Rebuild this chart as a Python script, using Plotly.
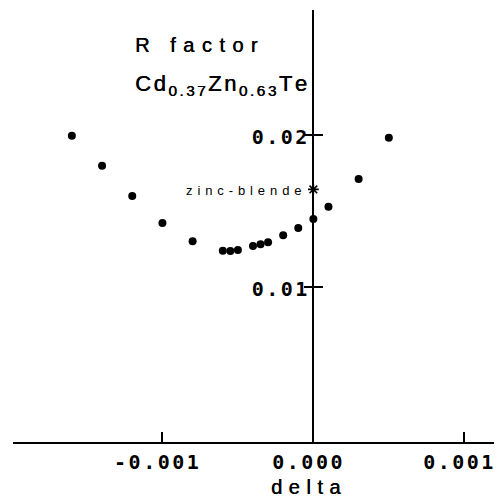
import plotly.graph_objects as go

# Data
delta = [-0.0016, -0.0014, -0.0012, -0.0010, -0.0008, -0.0006, -0.00055, -0.0005,
         -0.0004, -0.00035, -0.0003, -0.0002, -0.0001, 0.0, 0.0001, 0.0003, 0.0005]
r_factor = [0.01998, 0.01800, 0.01601, 0.01423, 0.01302, 0.01240, 0.01238, 0.01245,
            0.01271, 0.01283, 0.01296, 0.01342, 0.01390, 0.01449, 0.01530, 0.01713, 0.01985]
zb_delta = [0.0]
zb_r = [0.01644]

x_tickvals = [-0.001, 0.0, 0.001]
x_ticklabels = ["-0.001", "0.000", "0.001"]
y_tickvals = [0.01, 0.02]
y_ticklabels = ["0.01", "0.02"]
x_title = "delta"

x_range = [-0.00199, 0.00121]
y_range = [-0.0002, 0.02826]

TICKFONT = "DejaVu Sans Mono"
TEXTFONT = "Liberation Sans"
SHADOW = "0.5px 0px 0px black"


def spaced(s, px):
    # letter-spacing on all but the last character (no trailing gap)
    return '<span style="letter-spacing:%spx">%s</span>%s' % (px, s[:-1], s[-1])


fig = go.Figure()
fig.add_trace(go.Scatter(x=delta, y=r_factor, mode="markers",
                         marker=dict(color="black", size=8), showlegend=False))
fig.add_trace(go.Scatter(x=zb_delta, y=zb_r, mode="markers",
                         marker=dict(color="black", size=9, symbol="asterisk-open",
                                     line=dict(color="black", width=1.6)),
                         showlegend=False))
# invisible trace to carry the inner y ticks
fig.add_trace(go.Scatter(x=[], y=[], yaxis="y2", showlegend=False))

ypos = (0 - x_range[0]) / (x_range[1] - x_range[0])

# page body has an 8px margin, so the figure is 8px smaller than the window
fig.update_layout(
    width=494, height=490,
    margin=dict(l=5, r=6, t=2, b=56, autoexpand=False),
    paper_bgcolor="white", plot_bgcolor="white",
    xaxis=dict(range=x_range, domain=[0, 1], showgrid=False, zeroline=False,
               automargin=False,
               showline=True, linewidth=2, linecolor="black",
               ticks="inside", ticklen=10, tickwidth=1.5, tickcolor="black",
               tickvals=x_tickvals,
               ticktext=["<b>%s</b>" % spaced(t, 2.5) for t in x_ticklabels],
               tickfont=dict(family=TICKFONT, size=20, color="black"),
               ticklabelstandoff=1, ticklabelshift=-6),
    yaxis=dict(range=y_range, anchor="free", position=ypos, showgrid=False,
               automargin=False,
               zeroline=False, showline=True, linewidth=2, linecolor="black",
               ticks="outside", ticklen=8, tickwidth=1.5, tickcolor="black",
               tickvals=y_tickvals,
               ticktext=["<b>%s</b>" % spaced(t, 2.5) for t in y_ticklabels],
               tickfont=dict(family=TICKFONT, size=20, color="black"),
               ticklabelstandoff=-7, ticklabelshift=2),
    yaxis2=dict(range=y_range, overlaying="y", anchor="free", position=ypos,
                automargin=False,
                showgrid=False, zeroline=False, showline=False,
                ticks="inside", ticklen=9, tickwidth=1.5, tickcolor="black",
                tickvals=y_tickvals, showticklabels=False, side="left"),
)

fig.add_annotation(x=-0.000049, y=-0.104, xref="x", yref="paper",
                   text=spaced(x_title, 6.5), showarrow=False,
                   xanchor="center", yanchor="middle",
                   font=dict(family=TEXTFONT, size=20, color="black", shadow=SHADOW))
fig.add_annotation(x=-0.001195, y=0.02595, xref="x", yref="y",
                   text=spaced("R factor", 7.5), showarrow=False,
                   xanchor="left", yanchor="middle",
                   font=dict(family=TEXTFONT, size=20, color="black", shadow=SHADOW))
fig.add_annotation(x=-0.001195, y=0.02330, xref="x", yref="y",
                   text=spaced("Cd<sub>0.37</sub>Zn<sub>0.63</sub>Te", 2.5),
                   showarrow=False, xanchor="left", yanchor="middle",
                   font=dict(family=TEXTFONT, size=22, color="black", shadow=SHADOW))
fig.add_annotation(x=-0.00006, y=0.01640, xref="x", yref="y",
                   text=spaced("zinc-blende", 4.9), showarrow=False,
                   xanchor="right", yanchor="middle",
                   font=dict(family=TEXTFONT, size=13, color="black"))

fig.write_html("out.html")
